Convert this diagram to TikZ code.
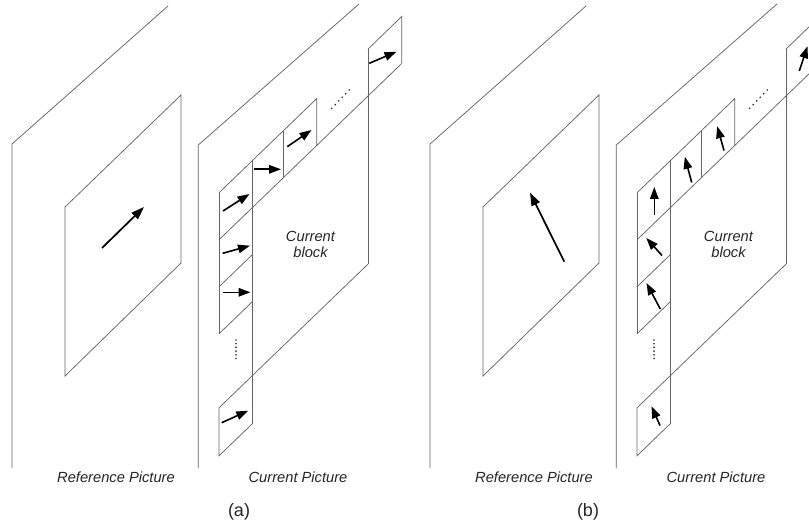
\documentclass[tikz,border=0pt]{standalone}
\usepackage{fontspec}
\setmainfont{Liberation Sans}
\usetikzlibrary{arrows.meta}

\tikzset{
  frame/.style={draw=black!60, line width=0.75pt, line join=miter},
  mv/.style={-{Triangle[length=13pt,width=9pt]}, line width=1.7pt, black},
  mvsmall/.style={-{Triangle[length=12pt,width=8.5pt]}, line width=1.6pt, black},
  dotmark/.style={fill=black!80},
  caption/.style={font=\fontsize{14.7}{17}\selectfont\itshape, text=black!85, inner sep=0pt, align=center},
  panelname/.style={font=\fontsize{18}{20}\selectfont, text=black!85, inner sep=0pt}
}

% Frames shared by both panels: the two picture planes, the reference
% block and the current block with its neighbouring blocks.
\newcommand\panelframes{%
  % reference picture plane and reference block
  \draw[frame] (168,6) -- (12,144) -- (12,468);
  \draw[frame] (65,207) -- (181,95) -- (181,263) -- (65,376) -- cycle;
  % current picture plane
  \draw[frame] (359,4) -- (198.3,145) -- (198.3,468);
  % top row of neighbouring blocks
  \draw[frame] (219,192.8) -- (316.7,98.6) -- (316.7,145.6);
  \draw[frame] (283.3,130.8) -- (283.3,177.8);
  % top edge of the current block, extended through the top-right block
  \draw[frame] (219,239.8) -- (401.7,63.5);
  % top-right block and right edge of the current block
  \draw[frame] (368,49.1) -- (401.7,16.5) -- (401.7,63.5);
  \draw[frame] (368,49.1) -- (368,264.1);
  % bottom edge of the current block, extended through the bottom block
  \draw[frame] (219,407.8) -- (368,264.1);
  % left column of neighbouring blocks
  \draw[frame] (252,161) -- (252,424);
  \draw[frame] (219,192.8) -- (219,333.8);
  \draw[frame] (219,286.8) -- (252,255);
  \draw[frame] (219,333.8) -- (252,302);
  \draw[frame] (219,407.8) -- (219,455.8) -- (252,424);
  % omitted blocks
  \foreach \i in {0,...,5}
    \fill[dotmark] ({331.7+3.5*\i},{108.3-3.66*\i}) circle (0.95);
  \foreach \i in {0,...,5}
    \fill[dotmark] (236,{340+3.7*\i}) circle (0.95);
  % captions
  \node[caption] (cb\panelid) at (310.5,244) {Current\\[-1pt]block};
  \node[caption] (rp\panelid) at (116,477) {Reference Picture};
  \node[caption] (cp\panelid) at (298,477) {Current Picture};
}

\begin{document}
\begin{tikzpicture}[x=1pt, y=-1pt]
\clip (0,0) rectangle (809,532);
\fill[white] (0,0) rectangle (809,532);

% ---------- panel (a): translational motion ----------
\begin{scope}
  \def\panelid{a}
  \panelframes
  \draw[mv] (102,248) -- (144,207);
  \draw[mvsmall] (223,211) -- (249.5,194);
  \draw[mvsmall] (253.5,169.3) -- (281,169.3);
  \draw[mvsmall] (287.3,146.7) -- (311.5,130);
  \draw[mvsmall] (369.3,63.3) -- (396.5,51.7);
  \draw[mvsmall] (222.7,253.3) -- (250,245.7);
  \draw[mvsmall] (222.7,292.3) -- (250.5,292.3);
  \draw[mvsmall] (221.7,422.7) -- (248.3,410.7);
  \node[panelname] (pa) at (239,512) {(a)};
\end{scope}

% ---------- panel (b): varying motion ----------
\begin{scope}[xshift=418pt]
  \def\panelid{b}
  \panelframes
  \draw[mv] (146.3,261.7) -- (112,192.7);
  \draw[mvsmall] (236.3,215) -- (236.3,187);
  \draw[mvsmall] (273.7,182.5) -- (266.8,156.8);
  \draw[mvsmall] (306,150.5) -- (299.2,126.2);
  \draw[mvsmall] (381.3,71) -- (389.5,46.2);
  \draw[mvsmall] (244,255.5) -- (228.3,238);
  \draw[mvsmall] (242.3,309) -- (228.5,283);
  \draw[mvsmall] (242,425.5) -- (233.5,406.2);
  \node[panelname] (pb) at (170,512) {(b)};
\end{scope}
\end{tikzpicture}
\end{document}
